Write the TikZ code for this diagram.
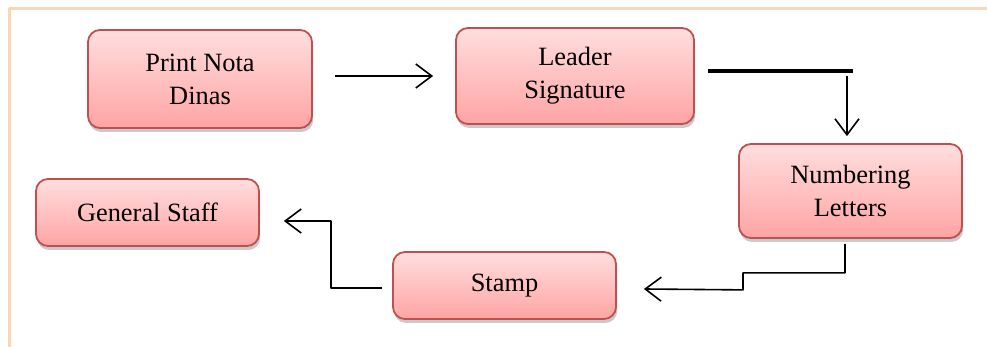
\documentclass[tikz,border=0pt]{standalone}
\usepackage{fontspec}
\setmainfont{Liberation Serif}
\usetikzlibrary{arrows.meta,shadows}
\definecolor{boxline}{RGB}{192,80,77}
\definecolor{boxtop}{RGB}{255,222,222}
\definecolor{boxbottom}{RGB}{255,164,164}
\definecolor{framecol}{RGB}{251,214,182}
\begin{document}
\begin{tikzpicture}[x=0.5pt, y=0.5pt, font=\fontsize{13.2}{16.5}\selectfont, line join=round, >={Straight Barb[length=8pt,width=12pt]},
	stepbox/.style={draw=boxline, line width=0.9pt, rounded corners=6pt, top color=boxtop, bottom color=boxbottom, align=center, minimum width=111.5pt,
		drop shadow={shadow xshift=0.6pt, shadow yshift=-2pt, opacity=0.35, fill=black!60}},
	flow/.style={->, line width=0.8pt}]
				\useasboundingbox (0,0) rectangle (987,347);
				\draw[framecol, line width=1.5pt] (9,0) -- (9,338) -- (987,338);
				% steps
				\node[stepbox, minimum width=112pt, minimum height=49pt] (print) at (200,268) {Print Nota\\Dinas};
				\node[stepbox, minimum width=119pt, minimum height=48pt] (leader) at (575,271) {Leader\\Signature};
				\node[stepbox, minimum height=47pt] (numbering) at (850.5,156) {Numbering\\Letters};
				\node[stepbox, minimum height=33.5pt] (stamp) at (504.5,61.5) {Stamp};
				\node[stepbox, minimum height=33.5pt] (general) at (147.5,134.5) {General Staff};
				% connectors
				\draw[flow, shorten <=11pt, shorten >=11pt] (print.east |- leader.west) -- (leader.west);
				\draw[line width=1.6pt] ([xshift=6.5pt,yshift=2.5pt]leader.east) -- ++(145,0);
				\coordinate (drop) at (847,271);
				\draw[flow, shorten >=3.5pt] (drop) -- (drop |- numbering.north);
				\draw[flow] ([xshift=-2.75pt,yshift=-2.5pt]numbering.south) -- ++(0,-29) -| ++(-102,-17) -- ([xshift=13.5pt,yshift=-1.75pt]stamp.east);
				\draw[flow] ([xshift=-5pt,yshift=-1.25pt]stamp.west) -- ++(-51,0) |- ([xshift=12pt,yshift=-4.25pt]general.east);
			\end{tikzpicture}
\end{document}
